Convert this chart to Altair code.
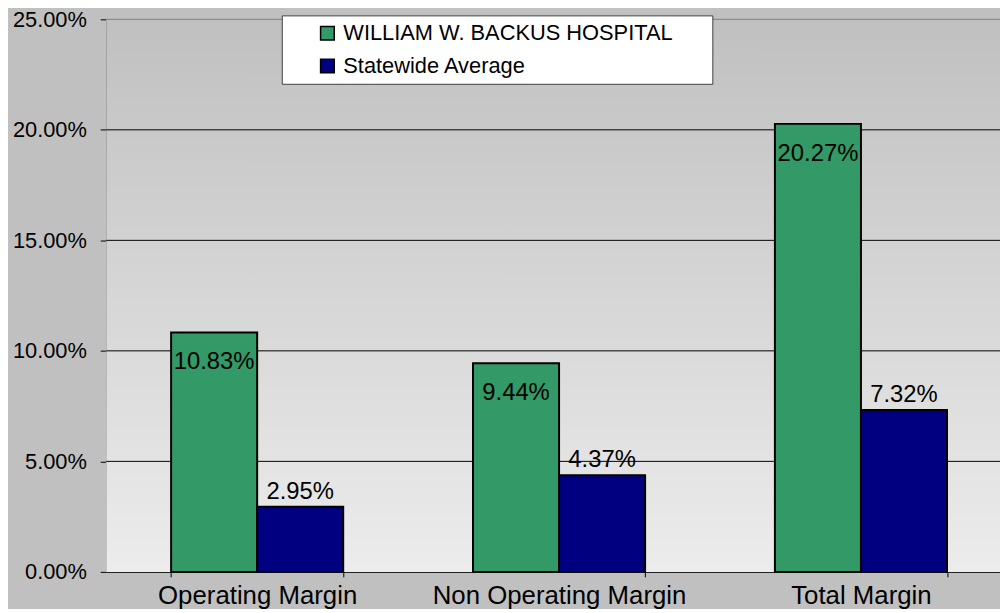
import altair as alt
import pandas as pd

categories = ["Operating Margin", "Non Operating Margin", "Total Margin"]
series = ["WILLIAM W. BACKUS HOSPITAL", "Statewide Average"]
hospital = [0.1083, 0.0944, 0.2027]
statewide = [0.0295, 0.0437, 0.0732]
y_ticks = [0.0, 0.05, 0.10, 0.15, 0.20, 0.25]
colors = ["#339966", "#000080"]

rows = []
for c, h, s in zip(categories, hospital, statewide):
    rows.append({"category": c, "series": series[0], "value": h})
    rows.append({"category": c, "series": series[1], "value": s})
df = pd.DataFrame(rows)
grid_df = pd.DataFrame({"value": y_ticks[1:]})

W, H = 901, 557
FONT = "Liberation Sans"

x_enc = alt.X(
    "category:N",
    sort=categories,
    scale=alt.Scale(range=[0, 913], paddingInner=0.43, paddingOuter=0.215),
    axis=alt.Axis(
        title=None, labelAngle=0, tickBand="extent", tickSize=5,
        labelFontSize=26, labelColor="black", labelBaseline="alphabetic",
        labelPadding=27, domainColor="black", tickColor="black", grid=False,
        labelFont=FONT, labelLimit=500,
    ),
)
xo_enc = alt.XOffset("series:N", sort=series,
                     scale=alt.Scale(paddingInner=0, paddingOuter=0))
y_enc = alt.Y(
    "value:Q",
    scale=alt.Scale(domain=[0, 0.25], nice=False),
    axis=alt.Axis(
        title=None, format=".2%", values=y_ticks, tickSize=6,
        labelFontSize=22, labelColor="black", labelPadding=14,
        domainColor="black", tickColor="black", grid=False, labelFont=FONT,
    ),
)

bg = alt.Chart(pd.DataFrame({"bg": [0]})).mark_rect(
    fill={
        "gradient": "linear", "x1": 0, "y1": 0, "x2": 0, "y2": 1,
        "stops": [{"offset": 0, "color": "#c0c0c0"}, {"offset": 1, "color": "#ececec"}],
    }
).encode(x=alt.value(0), x2=alt.value(W), y=alt.value(0), y2=alt.value(H))

grid = alt.Chart(grid_df).mark_rule(strokeWidth=1).encode(
    y=y_enc,
    color=alt.condition(alt.datum.value >= 0.25, alt.value("#808080"), alt.value("black")),
)

base = alt.Chart(df)

bars = base.mark_bar(stroke="black", strokeWidth=2).encode(
    x=x_enc,
    xOffset=xo_enc,
    y=y_enc,
    color=alt.Color(
        "series:N",
        scale=alt.Scale(domain=series, range=colors),
        legend=alt.Legend(
            title=None, orient="none", legendX=177, legendY=-4,
            fillColor="white", strokeColor="#404040", padding=7,
            rowPadding=11, symbolOffset=28, labelFontSize=22, labelFont=FONT,
            labelColor="black", labelOffset=5, symbolType="square",
            symbolSize=190, symbolStrokeWidth=1.5, symbolStrokeColor="black",
            labelLimit=600, cornerRadius=0,
            labelExpr="datum.label + '\u2800\u2800'",
        ),
    ),
)

text_h = base.transform_filter(alt.datum.series == series[0]).mark_text(
    baseline="alphabetic", dy=37, fontSize=24, font=FONT, color="black"
).encode(x=x_enc, xOffset=xo_enc, y=y_enc, text=alt.Text("value:Q", format=".2%"))

text_s = base.transform_filter(alt.datum.series == series[1]).mark_text(
    baseline="alphabetic", dy=-8, fontSize=24, font=FONT, color="black"
).encode(x=x_enc, xOffset=xo_enc, y=y_enc, text=alt.Text("value:Q", format=".2%"))

chart = alt.layer(bg, grid, bars, text_h, text_s).properties(
    width=W, height=H,
    autosize=alt.AutoSizeParams(type="none"),
    padding={"left": 99, "top": 9, "right": 0, "bottom": 35},
    background="#c0c0c0",
).configure_view(stroke=None).configure(font=FONT)

chart.save("out.html", embed_options={"renderer": "svg", "actions": False})
